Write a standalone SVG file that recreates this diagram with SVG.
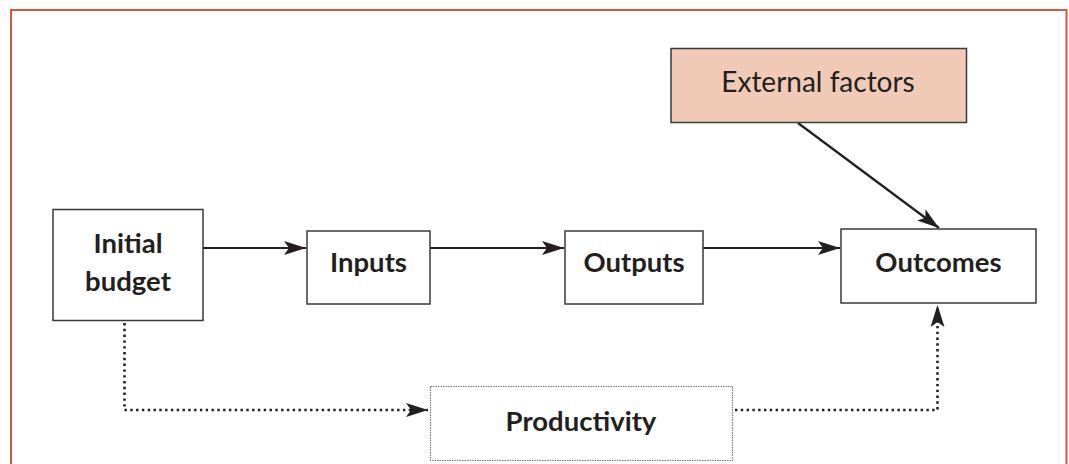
<svg xmlns="http://www.w3.org/2000/svg" width="1069" height="464" viewBox="0 0 1069 464">
<style>
.box{fill:#fff;stroke:#3a3a3a;stroke-width:1.5}
.ext{fill:#f0cab7;stroke:#3a3a3a;stroke-width:1.5}
.dbox{fill:#fff;stroke:#777;stroke-width:1.2;stroke-dasharray:1.5 1}
.lbl{font-family:Lato,"Open Sans",sans-serif;font-weight:bold;font-size:27.5px;fill:#231f20;text-anchor:middle}
.reg{font-family:Lato,"Open Sans",sans-serif;font-size:28px;fill:#231f20;text-anchor:middle}
.solid{stroke:#231f20;stroke-width:2.2;fill:none}
.dot{stroke:#231f20;stroke-width:2.6;fill:none;stroke-dasharray:2.4 3.4;stroke-linecap:butt}
</style>
<defs>
<marker id="ah" markerUnits="userSpaceOnUse" markerWidth="24" markerHeight="16" refX="22" refY="7" orient="auto">
<path d="M0,0 L22,7 L0,14 L5,7 Z" fill="#231f20"/>
</marker>
</defs>
<path d="M11,464 L11,10 L1066.5,10 L1066.5,464" fill="none" stroke="#d6573f" stroke-width="2"/>
<g id="connectors">
<line class="solid" x1="203" y1="248" x2="306" y2="248" marker-end="url(#ah)"/>
<line class="solid" x1="430" y1="248" x2="564" y2="248" marker-end="url(#ah)"/>
<line class="solid" x1="703" y1="248" x2="840" y2="248" marker-end="url(#ah)"/>
<line class="solid" x1="798" y1="123" x2="939" y2="228" marker-end="url(#ah)"/>
<path class="dot" d="M124.5,323 L124.5,410 L428,410" marker-end="url(#ah)"/>
<path class="dot" d="M735,410 L937.5,410 L937.5,305" marker-end="url(#ah)"/>
</g>
<g id="initial-budget">
<rect class="box" x="53" y="209.5" width="150" height="111"/>
<text class="lbl" x="128" y="253">Initial</text>
<text class="lbl" x="128" y="291">budget</text>
</g>
<g id="inputs">
<rect class="box" x="307" y="231" width="123" height="73"/>
<text class="lbl" x="368.5" y="272">Inputs</text>
</g>
<g id="outputs">
<rect class="box" x="565" y="231" width="138" height="73"/>
<text class="lbl" x="634" y="272">Outputs</text>
</g>
<g id="outcomes">
<rect class="box" x="841" y="229" width="195" height="74"/>
<text class="lbl" x="938.5" y="272">Outcomes</text>
</g>
<g id="external-factors">
<rect class="ext" x="671" y="48.5" width="295.5" height="74"/>
<text class="reg" x="818" y="92">External factors</text>
</g>
<g id="productivity">
<rect class="dbox" x="430.5" y="386.5" width="302" height="74"/>
<text class="lbl" x="581" y="431">Productivity</text>
</g>
</svg>
